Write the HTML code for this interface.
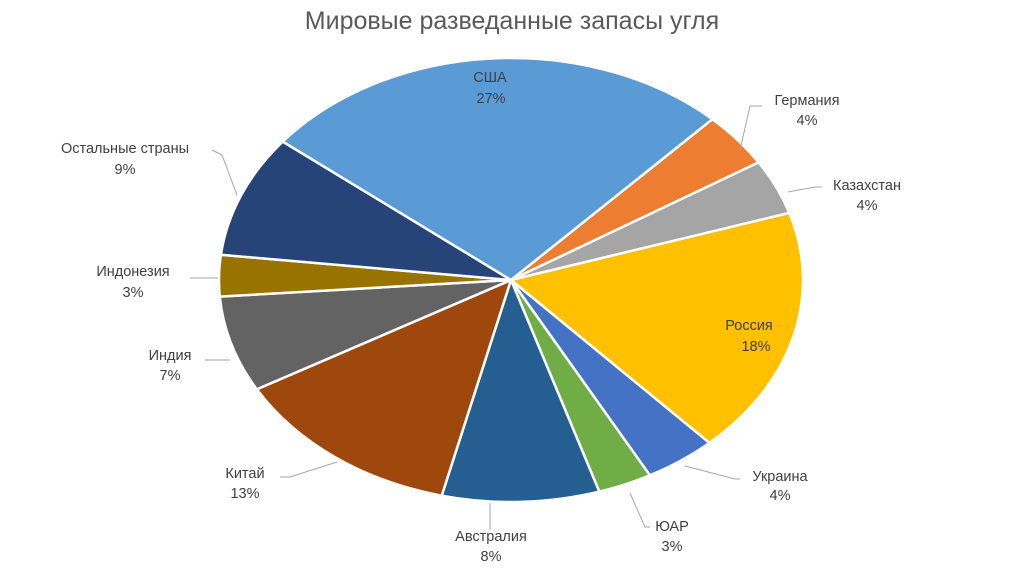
<!DOCTYPE html>
<html><head><meta charset="utf-8"><style>
html,body{margin:0;padding:0;background:#fff;width:1024px;height:574px;overflow:hidden}
svg text{font-family:"Liberation Sans",sans-serif;fill:#404040;font-size:14.5px}
</style></head><body>
<svg id="s" width="1024" height="574" xmlns="http://www.w3.org/2000/svg">
<text x="512" y="29" text-anchor="middle" style="font-size:25px;fill:#595959">Мировые разведанные запасы угля</text>
<g id="p"></g>
<g fill="none" stroke="#a6a6a6" stroke-width="1">
<polyline points="740,150 750,106 762,106"/>
<polyline points="788,192 815,187 822,187"/>
<polyline points="237,195 222,155 212,150"/>
<polyline points="218,278 190,278"/>
<polyline points="230,360 205,360"/>
<polyline points="337,462 290,477 280,477"/>
<polyline points="490,503 490,530"/>
<polyline points="630,493 645,527 650,527"/>
<polyline points="685,466 735,479 740,479"/>
</g>
<g text-anchor="middle">
<text x="490" y="82">США</text><text x="491" y="103">27%</text>
<text x="807" y="105">Германия</text><text x="807" y="125">4%</text>
<text x="867" y="190">Казахстан</text><text x="867" y="210">4%</text>
<text x="749" y="330">Россия</text><text x="756" y="351">18%</text>
<text x="780" y="481">Украина</text><text x="780" y="500">4%</text>
<text x="672" y="531">ЮАР</text><text x="672" y="551">3%</text>
<text x="491" y="541">Австралия</text><text x="491" y="561">8%</text>
<text x="245" y="478">Китай</text><text x="245" y="498">13%</text>
<text x="170" y="360">Индия</text><text x="170" y="380">7%</text>
<text x="133" y="276">Индонезия</text><text x="133" y="297">3%</text>
<text x="125" y="153">Остальные страны</text><text x="125" y="174">9%</text>
</g>
</svg>
<script>
var d=[[4,"#ed7d31"],[4,"#a5a5a5"],[18,"#ffc000"],[4,"#4472c4"],[3,"#70ad47"],[8.7,"#255e91"],[13,"#9e480e"],[7,"#636363"],[3,"#997300"],[8.9,"#264478"],[26.4,"#5b9bd5"]];
var cx=511,cy=280,rx=292,ry=222,a=43.6,h="";
function pt(t){var r=t*Math.PI/180;return (cx+rx*Math.sin(r)).toFixed(1)+","+(cy-ry*Math.cos(r)).toFixed(1);}
d.forEach(function(s){var b=a+s[0]*3.6;h+='<path d="M'+cx+','+cy+' L'+pt(a)+' A'+rx+','+ry+' 0 '+(s[0]>50?1:0)+',1 '+pt(b)+' Z" fill="'+s[1]+'" stroke="#fff" stroke-width="2.5"/>';a=b;});
document.getElementById("p").innerHTML=h;
</script>
</body></html>
